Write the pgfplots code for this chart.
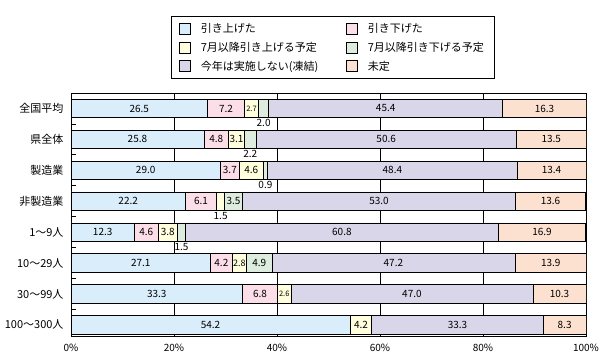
\documentclass[border=0pt]{standalone}
\usepackage{pgfplots}
\pgfplotsset{compat=1.18}
\usepackage{fontspec}
\setmainfont{Noto Sans CJK JP}
\definecolor{cA}{RGB}{217,237,250}
\definecolor{cB}{RGB}{252,222,232}
\definecolor{cC}{RGB}{255,255,221}
\definecolor{cD}{RGB}{221,236,221}
\definecolor{cE}{RGB}{216,214,232}
\definecolor{cF}{RGB}{253,225,208}
\begin{document}
\begin{tikzpicture}
\pgfplotsset{
  base/.style={
    width=515pt, height=243pt, scale only axis,
    xmin=0, xmax=100, ymin=-0.5, ymax=7.36, y dir=reverse,
  }
}
\begin{axis}[base,
  xbar stacked, bar width=0.6,
  axis line style={black, line width=0.8pt},
  xtick={0,20,...,100},
  xticklabels={0\%,20\%,40\%,60\%,80\%,100\%},
  xtick pos=bottom,
  xticklabel style={font=\fontsize{10}{12}\selectfont, yshift=-5pt},
  ytick={0,...,7},
  yticklabels={全国平均,県全体,製造業,非製造業,1～9人,10～29人,30～99人,100～300人},
  yticklabel style={font=\fontsize{11}{13}\selectfont, xshift=-4pt},
  ytick pos=left,
  minor ytick={0.5,1.5,...,6.5},
  major tick length=0pt,
  minor tick length=5pt,
  tick align=inside,
  minor tick style={black, line width=0.8pt},
  xmajorgrids,
  major grid style={black, line width=0.8pt},
  every axis plot/.append style={draw=black, line width=0.6pt},
  legend columns=2,
  legend cell align=left,
  legend image code/.code={\draw[#1, draw=black, line width=0.6pt] (0pt,-5.5pt) rectangle (11pt,5.5pt);},
  legend style={at={(0.508,1)}, anchor=south, yshift=14pt, draw=black, line width=0.8pt,
    font=\fontsize{11}{13}\selectfont, row sep=4pt, inner xsep=8pt, inner ysep=5pt,
    /tikz/every odd column/.append style={column sep=8pt},
    /tikz/every even column/.append style={column sep=26pt}},
]
\addplot[fill=cA] coordinates {(26.5,0) (25.8,1) (29.0,2) (22.2,3) (12.3,4) (27.1,5) (33.3,6) (54.2,7)};
\addplot[fill=cB] coordinates {(7.2,0) (4.8,1) (3.7,2) (6.1,3) (4.6,4) (4.2,5) (6.8,6) (0,7)};
\addplot[fill=cC] coordinates {(2.7,0) (3.1,1) (4.6,2) (1.5,3) (3.8,4) (2.8,5) (2.6,6) (4.2,7)};
\addplot[fill=cD] coordinates {(2.0,0) (2.2,1) (0.9,2) (3.5,3) (1.5,4) (4.9,5) (0,6) (0,7)};
\addplot[fill=cE] coordinates {(45.4,0) (50.6,1) (48.4,2) (53.0,3) (60.8,4) (47.2,5) (47.0,6) (33.3,7)};
\addplot[fill=cF] coordinates {(16.3,0) (13.5,1) (13.4,2) (13.6,3) (16.9,4) (13.9,5) (10.3,6) (8.3,7)};
\legend{引き上げた,引き下げた,7月以降引き上げる予定,7月以降引き下げる予定,今年は実施しない(凍結),未定}
\end{axis}
\begin{axis}[base, hide axis]
\addplot[draw=none, nodes near coords, point meta=explicit symbolic,
  every node near coord/.append style={anchor=center, font=\fontsize{10}{12}\selectfont}]
coordinates {
(13.25,0) [26.5] (30.1,0) [7.2] (61.1,0) [45.4] (91.95,0) [16.3]
(12.9,1) [25.8] (28.2,1) [4.8] (32.15,1) [3.1] (61.2,1) [50.6] (93.25,1) [13.5]
(14.5,2) [29.0] (30.85,2) [3.7] (35.0,2) [4.6] (62.4,2) [48.4] (93.3,2) [13.4]
(11.1,3) [22.2] (25.25,3) [6.1] (31.55,3) [3.5] (59.8,3) [53.0] (93.1,3) [13.6]
(6.15,4) [12.3] (14.6,4) [4.6] (18.8,4) [3.8] (52.6,4) [60.8] (91.45,4) [16.9]
(13.55,5) [27.1] (29.2,5) [4.2] (36.55,5) [4.9] (62.6,5) [47.2] (93.15,5) [13.9]
(16.65,6) [33.3] (36.7,6) [6.8] (66.2,6) [47.0] (94.85,6) [10.3]
(27.1,7) [54.2] (56.3,7) [4.2] (75.05,7) [33.3] (95.85,7) [8.3]
};
\addplot[draw=none, nodes near coords, point meta=explicit symbolic,
  every node near coord/.append style={anchor=center, inner sep=0pt, font=\fontsize{7.5}{9}\selectfont}]
coordinates {(35.05,0) [2.7] (41.4,6) [2.6]};
\addplot[draw=none, nodes near coords, point meta=explicit symbolic,
  every node near coord/.append style={anchor=center, inner sep=0pt, font=\fontsize{9}{10}\selectfont}]
coordinates {(32.7,5) [2.8]};
\addplot[draw=none, nodes near coords, point meta=explicit symbolic,
  every node near coord/.append style={anchor=north, inner sep=1pt, font=\fontsize{10}{12}\selectfont}]
coordinates {(37.4,0.31) [2.0] (34.8,1.31) [2.2] (37.75,2.31) [0.9] (29.05,3.31) [1.5] (21.45,4.31) [1.5]};
\end{axis}
\path (-71pt,336pt) -- (533pt,-25pt);
\end{tikzpicture}
\end{document}
